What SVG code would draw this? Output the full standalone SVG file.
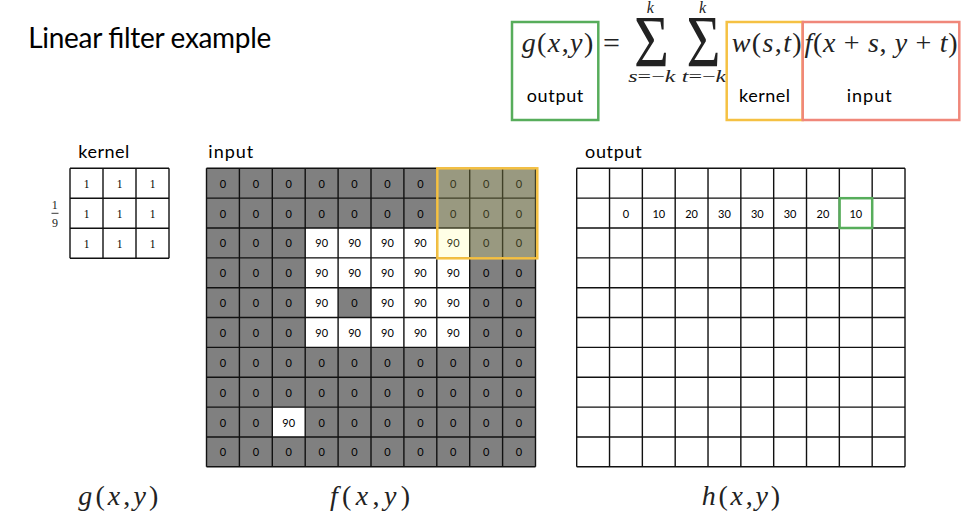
<svg xmlns="http://www.w3.org/2000/svg" width="970" height="523" viewBox="0 0 970 523">
<style>
.sans{font-family:Lato,"Open Sans","Liberation Sans",sans-serif;fill:#000}
.lbl{font-size:18px}
.math{font-family:"Liberation Serif","DejaVu Serif",serif;fill:#222}
.it{font-style:italic}
.cell{font-family:Lato,"Liberation Sans",sans-serif;font-size:11px;text-anchor:middle;fill:#000}
.kcell{font-family:"Liberation Serif",serif;font-size:11.5px;text-anchor:middle;fill:#000}
.grid{stroke:#111;stroke-width:1.4;fill:none}
</style>
<rect width="970" height="523" fill="#fff"/>
<g id="title"><text class="sans" x="28.3" y="48.3" font-size="28" textLength="243">Linear filter example</text></g>

<g id="formula">
<text class="math it" x="521.7" y="52" font-size="28" textLength="71.6">g<tspan font-style="normal">(</tspan>x<tspan font-style="normal">,</tspan>y<tspan font-style="normal">)</tspan></text>
<text class="math" x="603" y="53" font-size="30">=</text>
<text class="math" x="634" y="66.7" font-size="73" textLength="35" lengthAdjust="spacingAndGlyphs">Σ</text>
<text class="math" x="686.5" y="66.7" font-size="73" textLength="34" lengthAdjust="spacingAndGlyphs">Σ</text>
<text class="math it" x="646.7" y="13.3" font-size="16">k</text>
<text class="math it" x="699" y="13.3" font-size="16">k</text>
<text class="math it" x="628.3" y="81.7" font-size="17" textLength="47" lengthAdjust="spacingAndGlyphs">s<tspan font-style="normal">=−</tspan>k</text>
<text class="math it" x="681.7" y="81.7" font-size="17" textLength="44.5" lengthAdjust="spacingAndGlyphs">t<tspan font-style="normal">=−</tspan>k</text>
<text class="math it" x="731.7" y="52" font-size="28" textLength="70">w<tspan font-style="normal">(</tspan>s<tspan font-style="normal">,</tspan>t<tspan font-style="normal">)</tspan></text>
<text class="math it" x="804.5" y="52" font-size="28" textLength="153">f<tspan font-style="normal">(</tspan>x<tspan font-style="normal"> + </tspan>s<tspan font-style="normal">, </tspan>y<tspan font-style="normal"> + </tspan>t<tspan font-style="normal">)</tspan></text>
<text class="sans lbl" x="526.7" y="101.7" textLength="56.6">output</text>
<text class="sans lbl" x="739" y="101.7" textLength="51">kernel</text>
<text class="sans lbl" x="846.7" y="101.7" textLength="45">input</text>
<rect x="512" y="22" width="86.3" height="98" fill="none" stroke="#57AD5B" stroke-width="2.5"/>
<rect x="726.7" y="22" width="76" height="98" fill="none" stroke="#F5C143" stroke-width="2.5"/>
<rect x="802.7" y="22" width="156.6" height="98" fill="none" stroke="#F0877A" stroke-width="2.5"/>
</g>

<g id="kernel">
<text class="sans lbl" x="78.3" y="158.3" textLength="51">kernel</text>
<text class="math" x="54.7" y="209" font-size="12" text-anchor="middle">1</text>
<line x1="51.5" y1="213.3" x2="58.5" y2="213.3" stroke="#222" stroke-width="0.9"/>
<text class="math" x="55" y="226.5" font-size="12" text-anchor="middle">9</text>
<rect x="70" y="168.3" width="99" height="90" fill="#fff"/>
<path class="grid" d="M70 168.3V258.3M103 168.3V258.3M136 168.3V258.3M169 168.3V258.3M70 168.3H169M70 198.3H169M70 228.3H169M70 258.3H169"/>
<text class="kcell" x="86.5" y="187.7">1</text><text class="kcell" x="119.5" y="187.7">1</text><text class="kcell" x="152.5" y="187.7">1</text>
<text class="kcell" x="86.5" y="217.7">1</text><text class="kcell" x="119.5" y="217.7">1</text><text class="kcell" x="152.5" y="217.7">1</text>
<text class="kcell" x="86.5" y="247.7">1</text><text class="kcell" x="119.5" y="247.7">1</text><text class="kcell" x="152.5" y="247.7">1</text>
</g>

<g id="input">
<text class="sans lbl" x="208.3" y="158.3" textLength="45">input</text>
<rect x="206.5" y="168.3" width="329" height="298.5" fill="#808080"/>
<g fill="#fff">
<rect x="305.2" y="228" width="164.5" height="29.85"/>
<rect x="305.2" y="257.85" width="164.5" height="29.85"/>
<rect x="305.2" y="287.7" width="32.9" height="29.85"/>
<rect x="371" y="287.7" width="98.7" height="29.85"/>
<rect x="305.2" y="317.55" width="164.5" height="29.85"/>
<rect x="272.3" y="407.1" width="32.9" height="29.85"/>
</g>
<path class="grid" d="M206.5 168.3V466.8M239.4 168.3V466.8M272.3 168.3V466.8M305.2 168.3V466.8M338.1 168.3V466.8M371 168.3V466.8M403.9 168.3V466.8M436.8 168.3V466.8M469.7 168.3V466.8M502.6 168.3V466.8M535.5 168.3V466.8M206.5 168.3H535.5M206.5 198.15H535.5M206.5 228H535.5M206.5 257.85H535.5M206.5 287.7H535.5M206.5 317.55H535.5M206.5 347.4H535.5M206.5 377.25H535.5M206.5 407.1H535.5M206.5 436.95H535.5M206.5 466.8H535.5"/>
<g>
<text class="cell" x="222.95" y="187.7">0</text><text class="cell" x="255.85" y="187.7">0</text><text class="cell" x="288.75" y="187.7">0</text><text class="cell" x="321.65" y="187.7">0</text><text class="cell" x="354.55" y="187.7">0</text><text class="cell" x="387.45" y="187.7">0</text><text class="cell" x="420.35" y="187.7">0</text><text class="cell" x="453.25" y="187.7">0</text><text class="cell" x="486.15" y="187.7">0</text><text class="cell" x="519.05" y="187.7">0</text>
<text class="cell" x="222.95" y="217.55">0</text><text class="cell" x="255.85" y="217.55">0</text><text class="cell" x="288.75" y="217.55">0</text><text class="cell" x="321.65" y="217.55">0</text><text class="cell" x="354.55" y="217.55">0</text><text class="cell" x="387.45" y="217.55">0</text><text class="cell" x="420.35" y="217.55">0</text><text class="cell" x="453.25" y="217.55">0</text><text class="cell" x="486.15" y="217.55">0</text><text class="cell" x="519.05" y="217.55">0</text>
<text class="cell" x="222.95" y="247.4">0</text><text class="cell" x="255.85" y="247.4">0</text><text class="cell" x="288.75" y="247.4">0</text><text class="cell" x="321.65" y="247.4">90</text><text class="cell" x="354.55" y="247.4">90</text><text class="cell" x="387.45" y="247.4">90</text><text class="cell" x="420.35" y="247.4">90</text><text class="cell" x="453.25" y="247.4">90</text><text class="cell" x="486.15" y="247.4">0</text><text class="cell" x="519.05" y="247.4">0</text>
<text class="cell" x="222.95" y="277.25">0</text><text class="cell" x="255.85" y="277.25">0</text><text class="cell" x="288.75" y="277.25">0</text><text class="cell" x="321.65" y="277.25">90</text><text class="cell" x="354.55" y="277.25">90</text><text class="cell" x="387.45" y="277.25">90</text><text class="cell" x="420.35" y="277.25">90</text><text class="cell" x="453.25" y="277.25">90</text><text class="cell" x="486.15" y="277.25">0</text><text class="cell" x="519.05" y="277.25">0</text>
<text class="cell" x="222.95" y="307.1">0</text><text class="cell" x="255.85" y="307.1">0</text><text class="cell" x="288.75" y="307.1">0</text><text class="cell" x="321.65" y="307.1">90</text><text class="cell" x="354.55" y="307.1">0</text><text class="cell" x="387.45" y="307.1">90</text><text class="cell" x="420.35" y="307.1">90</text><text class="cell" x="453.25" y="307.1">90</text><text class="cell" x="486.15" y="307.1">0</text><text class="cell" x="519.05" y="307.1">0</text>
<text class="cell" x="222.95" y="336.95">0</text><text class="cell" x="255.85" y="336.95">0</text><text class="cell" x="288.75" y="336.95">0</text><text class="cell" x="321.65" y="336.95">90</text><text class="cell" x="354.55" y="336.95">90</text><text class="cell" x="387.45" y="336.95">90</text><text class="cell" x="420.35" y="336.95">90</text><text class="cell" x="453.25" y="336.95">90</text><text class="cell" x="486.15" y="336.95">0</text><text class="cell" x="519.05" y="336.95">0</text>
<text class="cell" x="222.95" y="366.8">0</text><text class="cell" x="255.85" y="366.8">0</text><text class="cell" x="288.75" y="366.8">0</text><text class="cell" x="321.65" y="366.8">0</text><text class="cell" x="354.55" y="366.8">0</text><text class="cell" x="387.45" y="366.8">0</text><text class="cell" x="420.35" y="366.8">0</text><text class="cell" x="453.25" y="366.8">0</text><text class="cell" x="486.15" y="366.8">0</text><text class="cell" x="519.05" y="366.8">0</text>
<text class="cell" x="222.95" y="396.65">0</text><text class="cell" x="255.85" y="396.65">0</text><text class="cell" x="288.75" y="396.65">0</text><text class="cell" x="321.65" y="396.65">0</text><text class="cell" x="354.55" y="396.65">0</text><text class="cell" x="387.45" y="396.65">0</text><text class="cell" x="420.35" y="396.65">0</text><text class="cell" x="453.25" y="396.65">0</text><text class="cell" x="486.15" y="396.65">0</text><text class="cell" x="519.05" y="396.65">0</text>
<text class="cell" x="222.95" y="426.5">0</text><text class="cell" x="255.85" y="426.5">0</text><text class="cell" x="288.75" y="426.5">90</text><text class="cell" x="321.65" y="426.5">0</text><text class="cell" x="354.55" y="426.5">0</text><text class="cell" x="387.45" y="426.5">0</text><text class="cell" x="420.35" y="426.5">0</text><text class="cell" x="453.25" y="426.5">0</text><text class="cell" x="486.15" y="426.5">0</text><text class="cell" x="519.05" y="426.5">0</text>
<text class="cell" x="222.95" y="456.35">0</text><text class="cell" x="255.85" y="456.35">0</text><text class="cell" x="288.75" y="456.35">0</text><text class="cell" x="321.65" y="456.35">0</text><text class="cell" x="354.55" y="456.35">0</text><text class="cell" x="387.45" y="456.35">0</text><text class="cell" x="420.35" y="456.35">0</text><text class="cell" x="453.25" y="456.35">0</text><text class="cell" x="486.15" y="456.35">0</text><text class="cell" x="519.05" y="456.35">0</text>
</g>
<rect x="436.8" y="168.3" width="99.5" height="90" fill="#FFFF80" fill-opacity="0.2"/>
<rect x="437.3" y="168.3" width="100" height="90" fill="none" stroke="#F5C143" stroke-width="2.5"/>
</g>

<g id="output">
<text class="sans lbl" x="585" y="158.3" textLength="56.7">output</text>
<rect x="576.7" y="168.3" width="328.3" height="298.5" fill="#fff"/>
<path class="grid" d="M576.7 168.3V466.8M609.53 168.3V466.8M642.36 168.3V466.8M675.19 168.3V466.8M708.02 168.3V466.8M740.85 168.3V466.8M773.68 168.3V466.8M806.51 168.3V466.8M839.34 168.3V466.8M872.17 168.3V466.8M905 168.3V466.8M576.7 168.3H905M576.7 198.15H905M576.7 228H905M576.7 257.85H905M576.7 287.7H905M576.7 317.55H905M576.7 347.4H905M576.7 377.25H905M576.7 407.1H905M576.7 436.95H905M576.7 466.8H905"/>
<text class="cell" x="625.9" y="217.55">0</text><text class="cell" x="658.8" y="217.55">10</text><text class="cell" x="691.6" y="217.55">20</text><text class="cell" x="724.4" y="217.55">30</text><text class="cell" x="757.3" y="217.55">30</text><text class="cell" x="790.1" y="217.55">30</text><text class="cell" x="822.9" y="217.55">20</text><text class="cell" x="855.8" y="217.55">10</text>
<rect x="839.6" y="198.2" width="32.6" height="29.8" fill="none" stroke="#57AD5B" stroke-width="2.5"/>
</g>

<g id="captions">
<text class="math it" x="78.3" y="505" font-size="28" textLength="80">g<tspan font-style="normal">(</tspan>x<tspan font-style="normal">,</tspan>y<tspan font-style="normal">)</tspan></text>
<text class="math it" x="330" y="505" font-size="28" textLength="80">f<tspan font-style="normal">(</tspan>x<tspan font-style="normal">,</tspan>y<tspan font-style="normal">)</tspan></text>
<text class="math it" x="701.7" y="505" font-size="28" textLength="78.3">h<tspan font-style="normal">(</tspan>x<tspan font-style="normal">,</tspan>y<tspan font-style="normal">)</tspan></text>
</g>
<g id="connectors"/>
</svg>
